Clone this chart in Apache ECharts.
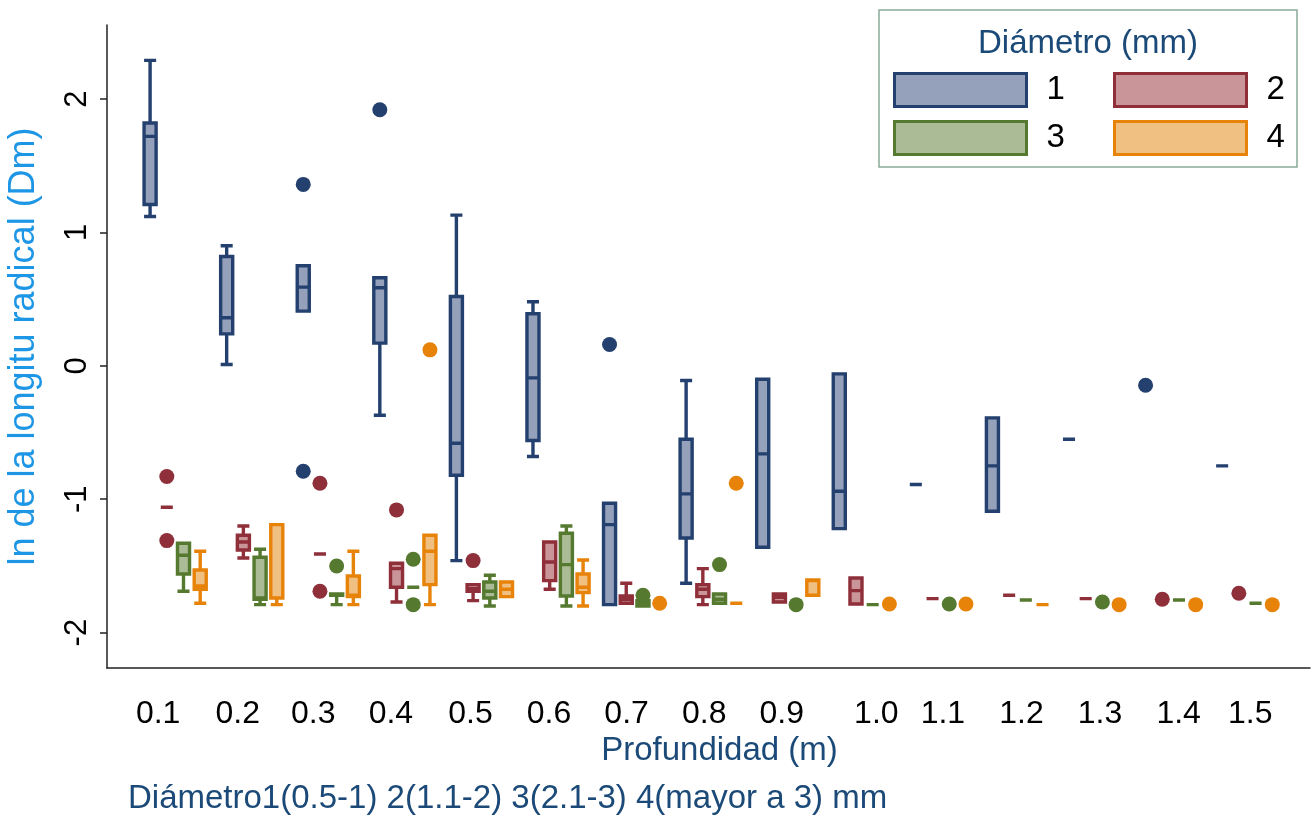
<!DOCTYPE html>
<html>
<head>
<meta charset="utf-8">
<script src="https://cdn.jsdelivr.net/npm/echarts@6/dist/echarts.min.js"></script>
<style>html,body{margin:0;padding:0;background:#fff}#c{width:1316px;height:816px}</style>
</head>
<body>
<div id="c"></div>
<script>
// ---- Data ----
const depthLabels = ['0.1','0.2','0.3','0.4','0.5','0.6','0.7','0.8','0.9','1.0','1.1','1.2','1.3','1.4','1.5'];
const diameterNames = ['1','2','3','4'];
const yTicks = [-2, -1, 0, 1, 2];

// box values per depth: [min, Q1, median, Q3, max], null = no box
const boxesD1 = [
  [1.12, 1.21, 1.72, 1.82, 2.29],
  [0.01, 0.24, 0.36, 0.82, 0.90],
  [0.41, 0.41, 0.59, 0.75, 0.75],
  [-0.37, 0.17, 0.585, 0.66, 0.66],
  [-1.46, -0.82, -0.58, 0.52, 1.13],
  [-0.68, -0.56, -0.09, 0.39, 0.48],
  [-1.79, -1.79, -1.19, -1.03, -1.03],
  [-1.63, -1.29, -0.96, -0.55, -0.11],
  [-1.36, -1.36, -0.66, -0.10, -0.10],
  [-1.22, -1.22, -0.94, -0.06, -0.06],
  [-0.89, -0.89, -0.89, -0.89, -0.89],
  [-1.09, -1.09, -0.75, -0.39, -0.39],
  [-0.55, -0.55, -0.55, -0.55, -0.55],
  null,
  [-0.75, -0.75, -0.75, -0.75, -0.75]
];
const boxesD2 = [
  [-1.06, -1.06, -1.06, -1.06, -1.06],
  [-1.44, -1.38, -1.32, -1.27, -1.20],
  [-1.41, -1.41, -1.41, -1.41, -1.41],
  [-1.77, -1.66, -1.52, -1.48, -1.48],
  [-1.76, -1.69, -1.67, -1.64, -1.64],
  [-1.675, -1.61, -1.47, -1.32, -1.32],
  [-1.78, -1.78, -1.75, -1.725, -1.63],
  [-1.79, -1.73, -1.675, -1.64, -1.52],
  [-1.77, -1.77, -1.735, -1.71, -1.71],
  [-1.785, -1.785, -1.685, -1.59, -1.59],
  [-1.745, -1.745, -1.745, -1.745, -1.745],
  [-1.72, -1.72, -1.72, -1.72, -1.72],
  [-1.745, -1.745, -1.745, -1.745, -1.745],
  null,
  null
];
const boxesD3 = [
  [-1.69, -1.56, -1.42, -1.33, -1.33],
  [-1.79, -1.75, -1.74, -1.435, -1.375],
  [-1.79, -1.72, -1.72, -1.71, -1.71],
  [-1.66, -1.66, -1.66, -1.66, -1.66],
  [-1.80, -1.74, -1.69, -1.62, -1.57],
  [-1.80, -1.725, -1.49, -1.255, -1.20],
  [-1.80, -1.80, -1.78, -1.76, -1.76],
  [-1.78, -1.78, -1.75, -1.71, -1.71],
  null,
  [-1.79, -1.79, -1.79, -1.79, -1.79],
  null,
  [-1.755, -1.755, -1.755, -1.755, -1.755],
  null,
  [-1.755, -1.755, -1.755, -1.755, -1.755],
  [-1.78, -1.78, -1.78, -1.78, -1.78]
];
const boxesD4 = [
  [-1.78, -1.675, -1.65, -1.53, -1.39],
  [-1.79, -1.74, -1.74, -1.19, -1.19],
  [-1.79, -1.73, -1.72, -1.575, -1.39],
  [-1.79, -1.64, -1.39, -1.27, -1.27],
  [-1.73, -1.73, -1.675, -1.62, -1.62],
  [-1.80, -1.70, -1.66, -1.56, -1.455],
  null,
  [-1.78, -1.78, -1.78, -1.78, -1.78],
  [-1.72, -1.72, -1.61, -1.605, -1.605],
  null,
  null,
  [-1.79, -1.79, -1.79, -1.79, -1.79],
  null,
  null,
  null
];

// outside values: [depth label, value]
const outD1 = [['0.3', 1.36], ['0.3', -0.79], ['0.4', 1.92], ['0.7', 0.16], ['1.4', -0.145]];
const outD2 = [['0.1', -0.83], ['0.1', -1.31], ['0.3', -0.88], ['0.3', -1.69], ['0.4', -1.08], ['0.5', -1.46], ['1.4', -1.75], ['1.5', -1.705]];
const outD3 = [['0.3', -1.50], ['0.4', -1.45], ['0.4', -1.79], ['0.7', -1.72], ['0.8', -1.49], ['0.9', -1.79], ['1.1', -1.785], ['1.3', -1.77]];
const outD4 = [['0.4', 0.12], ['0.7', -1.78], ['0.8', -0.88], ['1.0', -1.785], ['1.1', -1.785], ['1.3', -1.79], ['1.4', -1.79], ['1.5', -1.79]];

// ---- Styling ----
const borderColors = ['#23406f', '#8f2f3a', '#55792f', '#e8830a'];
const fillColors   = ['#95a1ba', '#c99598', '#aabb95', '#f0bf82'];
const FONT = 'Liberation Sans, Arial, sans-serif';
const W = 1316, H = 816;
const grid = {left: 107, right: 6, top: 25, bottom: 148, outerBoundsMode: 'none', containLabel: false};
const plotW = W - grid.left - grid.right;
// horizontal nudge (px) of each tick label relative to its group centre, as in the original
const labelNudge = [-17, -14, -15, -14, -11, -9, -8, -7, -6, 12, 2, 4, 6, 8, 3];

// same side-by-side offsets ECharts uses for 4 boxplot series
const bandW = plotW / depthLabels.length;
const avail = bandW * 0.8 - 2;
const gap = avail / 4 * 0.3;
const bw = (avail - gap * 3) / 4;
const offsets = [0,1,2,3].map(k => bw / 2 - avail / 2 + k * (gap + bw));

const allBoxes = [boxesD1, boxesD2, boxesD3, boxesD4];
const allOut = [outD1, outD2, outD3, outD4];

const series = [];
allBoxes.forEach((boxes, k) => {
  series.push({
    name: diameterNames[k],
    type: 'boxplot',
    z: 2,
    data: boxes.map((b, i) => b ? [i + 1].concat(b) : [i + 1, '-', '-', '-', '-', '-']),
    itemStyle: {color: fillColors[k], borderColor: borderColors[k], borderWidth: 3.4},
    emphasis: {disabled: true}
  });
});
allOut.forEach((pts, k) => {
  series.push({
    name: 'out' + diameterNames[k],
    type: 'scatter',
    z: 3,
    symbol: 'circle',
    symbolSize: 15,
    symbolOffset: [offsets[k], 0],
    data: pts.map(p => [depthLabels.indexOf(p[0]) + 1, p[1]]),
    itemStyle: {color: borderColors[k], opacity: 1},
    emphasis: {disabled: true}
  });
});

const legendPos = [[893, 72], [1113, 72], [893, 120], [1113, 120]];
const legends = diameterNames.map((n, k) => ({
  data: [{name: n, itemStyle: {color: fillColors[k], borderColor: borderColors[k], borderWidth: 3}}],
  left: legendPos[k][0], top: legendPos[k][1],
  padding: 0,
  icon: 'rect',
  itemWidth: 132, itemHeight: 33,
  selectedMode: false,
  textStyle: {fontSize: 33, color: '#000', fontFamily: FONT, padding: [0, 0, 0, 15]}
}));

const rich = {};
labelNudge.forEach((d, i) => {
  rich['s' + i] = {fontSize: 32, color: '#000', fontFamily: FONT,
    padding: d < 0 ? [0, -2 * d, 0, 0] : [0, 0, 0, 2 * d]};
});

const chart = echarts.init(document.getElementById('c'), null, {renderer: 'canvas'});
chart.setOption({
  animation: false,
  backgroundColor: '#fff',
  grid: grid,
  title: [
    {text: 'Diámetro (mm)', left: 1088, top: 44, textAlign: 'center', textVerticalAlign: 'middle', padding: 0,
     textStyle: {fontSize: 33, fontWeight: 'normal', color: '#1c4a78', fontFamily: FONT}},
    {text: 'Diámetro1(0.5-1) 2(1.1-2) 3(2.1-3) 4(mayor a 3) mm', left: 128, top: 799, textAlign: 'left', textVerticalAlign: 'middle', padding: 0,
     textStyle: {fontSize: 33, fontWeight: 'normal', color: '#1c4a78', fontFamily: FONT}}
  ],
  graphic: [{
    type: 'rect', z: -10,
    shape: {x: 879, y: 10, width: 418, height: 157},
    style: {fill: '#fff', stroke: '#8aa99b', lineWidth: 1.5}
  }],
  legend: legends,
  xAxis: {
    type: 'value',
    min: 0.11, max: 15.82,
    name: 'Profundidad (m)',
    nameLocation: 'middle',
    nameGap: 62,
    nameTextStyle: {fontSize: 33, color: '#1c4a78', fontFamily: FONT, padding: [0, 0, 0, 22]},
    axisLine: {show: true, onZero: false, lineStyle: {color: '#222', width: 1.5}},
    axisTick: {show: false},
    splitLine: {show: false},
    axisLabel: {
      customValues: depthLabels.map((_, i) => i + 1),
      formatter: v => { const i = Math.round(v) - 1; return '{s' + i + '|' + depthLabels[i] + '}'; },
      rich: rich,
      fontSize: 32, color: '#000', fontFamily: FONT, margin: 30
    }
  },
  yAxis: {
    type: 'value',
    min: -2.265, max: 2.555,
    name: 'ln de la longitu radical (Dm)',
    nameLocation: 'middle',
    nameGap: 65,
    nameTextStyle: {fontSize: 36, color: '#1e96e6', fontFamily: FONT},
    axisLine: {show: true, onZero: false, lineStyle: {color: '#222', width: 1.5}},
    axisTick: {show: true, customValues: yTicks, length: 7, lineStyle: {color: '#222', width: 1.5}},
    splitLine: {show: false},
    axisLabel: {
      customValues: yTicks,
      rotate: 90,
      fontSize: 31, color: '#000', fontFamily: FONT, margin: 14
    }
  },
  series: series
});
</script>
</body>
</html>
